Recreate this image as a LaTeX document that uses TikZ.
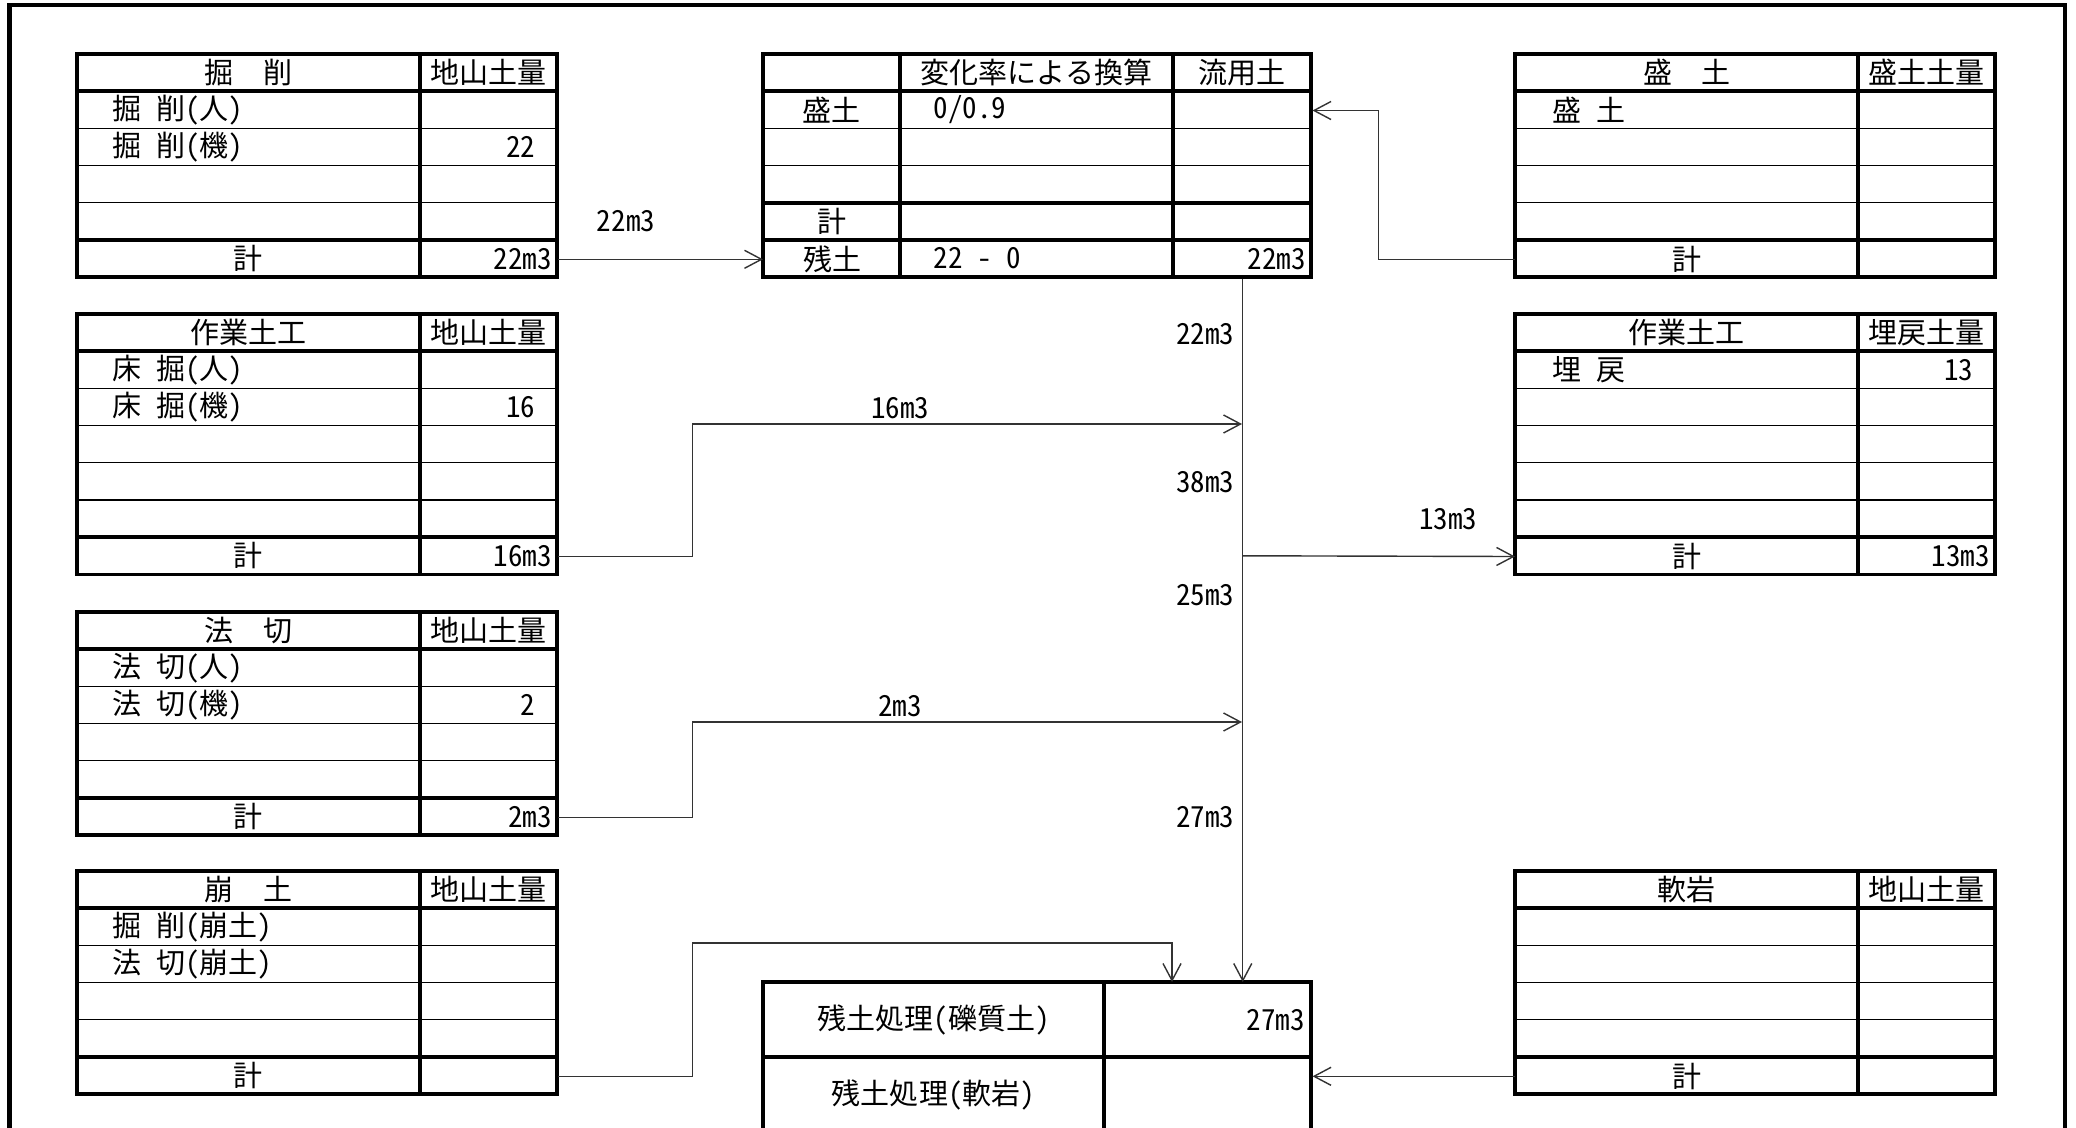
\documentclass[tikz,border=0pt]{standalone}
\usepackage{fontspec}
\setmainfont{Noto Sans CJK JP}[RawFeature=+hwid]
\usetikzlibrary{positioning}
\usetikzlibrary{arrows.meta}
\tikzset{
        % Table lines
        frame_rule/.style={line width=1pt},
        row_rule/.style={line width=0.35pt},
        % Text in the cells
        head_text/.style={inner sep=0pt},
        item_text/.style={anchor=west, inner sep=0pt},
        value_text/.style={anchor=east, inner sep=0pt},
        % Cells that a flow leaves or reaches
        cell/.style={anchor=north west, inner sep=0pt, minimum height=0.372cm, minimum width=#1},
        sum_cell/.style={anchor=north west, inner sep=0pt, inner xsep=0.06cm, minimum height=0.372cm, align=right, text width=#1},
        % Flows of soil
        flow/.style={black!80, line width=0.4pt, -{Straight Barb[length=0.17cm, width=0.18cm]}},
        flow_label/.style={inner sep=0pt}
}
% grid of one table: left, split, right, top, rows
\newcommand{\soilgrid}[5]{%
        \foreach \r in {2,...,#5}
            \draw[row_rule] (#1,{#4+37.2*(\r-1)}) -- (#3,{#4+37.2*(\r-1)});
        \draw[frame_rule] (#1,#4) rectangle (#3,{#4+37.2*#5});
        \draw[frame_rule] (#2,#4) -- (#2,{#4+37.2*#5});
        \draw[frame_rule] (#1,{#4+37.2}) -- (#3,{#4+37.2});
        \draw[frame_rule] (#1,{#4+37.2*(#5-1)}) -- (#3,{#4+37.2*(#5-1)});
}

\begin{document}
\begin{tikzpicture}[x=0.01cm, y=-0.01cm, font=\fontsize{8.25}{10}\selectfont]
    \useasboundingbox (0,0) rectangle (2076,1128);
    \clip (0,0) rectangle (2076,1128);
    \draw[line width=1.4pt] (9.5,1140) -- (9.5,5) -- (2065,5) -- (2065,1140);

    % 掘削
    \soilgrid{77}{420}{557}{54}{6}
    \node[head_text] (kussaku_head) at (248.5,72.6) {掘\quad 削};
    \node[head_text] (kussaku_unit) at (488.5,72.6) {地山土量};
    \node[item_text] (kussaku_man) at (112,109.8) {掘 削(人)};
    \node[item_text] (kussaku_mach) at (112,147) {掘 削(機)};
    \node[value_text] (kussaku_mach_v) at (536,147) {22};
    \node[head_text] (kussaku_total) at (248.5,258.6) {計};
    \node[sum_cell=1.25cm] (kussaku_sum) at (420,240) {22m3};

    % 作業土工
    \soilgrid{77}{420}{557}{314}{7}
    \node[head_text] (sagyo_head) at (248.5,332.6) {作業土工};
    \node[head_text] (sagyo_unit) at (488.5,332.6) {地山土量};
    \node[item_text] (sagyo_man) at (112,369.8) {床 掘(人)};
    \node[item_text] (sagyo_mach) at (112,407) {床 掘(機)};
    \node[value_text] (sagyo_mach_v) at (536,407) {16};
    \node[head_text] (sagyo_total) at (248.5,555.8) {計};
    \node[sum_cell=1.25cm] (sagyo_sum) at (420,537.2) {16m3};

    % 法切
    \soilgrid{77}{420}{557}{612}{6}
    \node[head_text] (norikiri_head) at (248.5,630.6) {法\quad 切};
    \node[head_text] (norikiri_unit) at (488.5,630.6) {地山土量};
    \node[item_text] (norikiri_man) at (112,667.8) {法 切(人)};
    \node[item_text] (norikiri_mach) at (112,705) {法 切(機)};
    \node[value_text] (norikiri_mach_v) at (536,705) {2};
    \node[head_text] (norikiri_total) at (248.5,816.6) {計};
    \node[sum_cell=1.25cm] (norikiri_sum) at (420,798) {2m3};

    % 崩土
    \soilgrid{77}{420}{557}{871}{6}
    \node[head_text] (houdo_head) at (248.5,889.6) {崩\quad 土};
    \node[head_text] (houdo_unit) at (488.5,889.6) {地山土量};
    \node[item_text] (houdo_cut) at (112,926.8) {掘 削(崩土)};
    \node[item_text] (houdo_slope) at (112,964) {法 切(崩土)};
    \node[head_text] (houdo_total) at (248.5,1075.6) {計};
    \node[sum_cell=1.25cm] (houdo_sum) at (420,1057) {};

    % 変化率による換算
    \foreach \yy in {128.4,165.6}
        \draw[row_rule] (763,\yy) -- (1311,\yy);
    \draw[frame_rule] (763,54) rectangle (1311,277.2);
    \draw[frame_rule] (900,54) -- (900,277.2) (1173,54) -- (1173,277.2);
    \draw[frame_rule] (763,91.2) -- (1311,91.2) (763,202.8) -- (1311,202.8) (763,240) -- (1311,240);
    \node[head_text] (henka_head) at (1036.5,72.6) {変化率による換算};
    \node[head_text] (henka_unit) at (1242,72.6) {流用土};
    \node[head_text] (henka_mori_name) at (831.5,109.8) {盛土};
    \node[item_text] (henka_mori_rate) at (933,109.8) {0/0.9};
    \node[cell=1.38cm] (henka_mori) at (1173,91.2) {};
    \node[head_text] (henka_total) at (831.5,221.4) {計};
    \node[cell=1.37cm] (henka_zando) at (763,240) {残土};
    \node[item_text] (henka_zando_calc) at (933,258.6) {22 - 0};
    \node[sum_cell=1.26cm] (henka_sum) at (1173,240) {22m3};

    % 残土処理
    \draw[frame_rule] (763,982) rectangle (1311,1140);
    \draw[frame_rule] (1104,982) -- (1104,1140) (763,1057) -- (1311,1057);
    \node[head_text] (shori_gravel_name) at (933.5,1019.5) {残土処理(礫質土)};
    \node[sum_cell=1.94cm, minimum height=0.75cm] (shori_gravel) at (1104,982) {27m3};
    \node[head_text] (shori_rock_name) at (933.5,1094.5) {残土処理(軟岩)};
    \node[cell=2.07cm, minimum height=0.75cm] (shori_rock) at (1104,1057) {};

    % 盛土
    \soilgrid{1515}{1858}{1995}{54}{6}
    \node[head_text] (morido_head) at (1686.5,72.6) {盛\quad 土};
    \node[head_text] (morido_unit) at (1926.5,72.6) {盛土土量};
    \node[item_text] (morido_item) at (1552,109.8) {盛 土};
    \node[cell=3.43cm] (morido_total) at (1515,240) {計};

    % 作業土工 (埋戻)
    \soilgrid{1515}{1858}{1995}{314}{7}
    \node[head_text] (ume_head) at (1686.5,332.6) {作業土工};
    \node[head_text] (ume_unit) at (1926.5,332.6) {埋戻土量};
    \node[item_text] (ume_item) at (1552,369.8) {埋 戻};
    \node[value_text] (ume_item_v) at (1974,369.8) {13};
    \node[cell=3.43cm] (ume_total) at (1515,537.2) {計};
    \node[sum_cell=1.25cm] (ume_sum) at (1858,537.2) {13m3};

    % 軟岩
    \soilgrid{1515}{1858}{1995}{871}{6}
    \node[head_text] (nangan_head) at (1686.5,889.6) {軟岩};
    \node[head_text] (nangan_unit) at (1926.5,889.6) {地山土量};
    \node[cell=3.43cm] (nangan_total) at (1515,1057) {計};

    % flows
    \coordinate (join_sagyo) at (1242,424);
    \coordinate (join_norikiri) at (1242,722);
    \coordinate (split_ume) at (1242,555.8);
    \coordinate (drop_houdo) at (1172,943);
    \draw[flow] (kussaku_sum.east) -- (henka_zando.west);
    \draw[flow] (morido_total.west) -| ([xshift=0.66cm]henka_mori.east) -- (henka_mori.east);
    \draw[flow] (henka_sum.south) -- (henka_sum.south |- shori_gravel.north);
    \draw[flow] (sagyo_sum.east) -- ++(134,0) |- (join_sagyo);
    \draw[flow] (norikiri_sum.east) -- ++(134,0) |- (join_norikiri);
    \draw[flow] (split_ume) -- (ume_total.west);
    \draw[flow] (houdo_sum.east) -- ++(134,0) |- (drop_houdo) -- (drop_houdo |- shori_gravel.north);
    \draw[flow] (nangan_total.west) -- (nangan_total.west -| shori_rock.east);

    % amounts on the flows
    \node[flow_label] (lab_kussaku) at (626,221) {22m3};
    \node[flow_label] (lab_sagyo) at (900,408) {16m3};
    \node[flow_label] (lab_norikiri) at (900,706) {2m3};
    \node[flow_label] (lab_ume) at (1448,519) {13m3};
    \node[flow_label, anchor=east] (lab_trunk1) at (1235,334) {22m3};
    \node[flow_label, anchor=east] (lab_trunk2) at (1235,482) {38m3};
    \node[flow_label, anchor=east] (lab_trunk3) at (1235,595) {25m3};
    \node[flow_label, anchor=east] (lab_trunk4) at (1235,817) {27m3};
\end{tikzpicture}
\end{document}
